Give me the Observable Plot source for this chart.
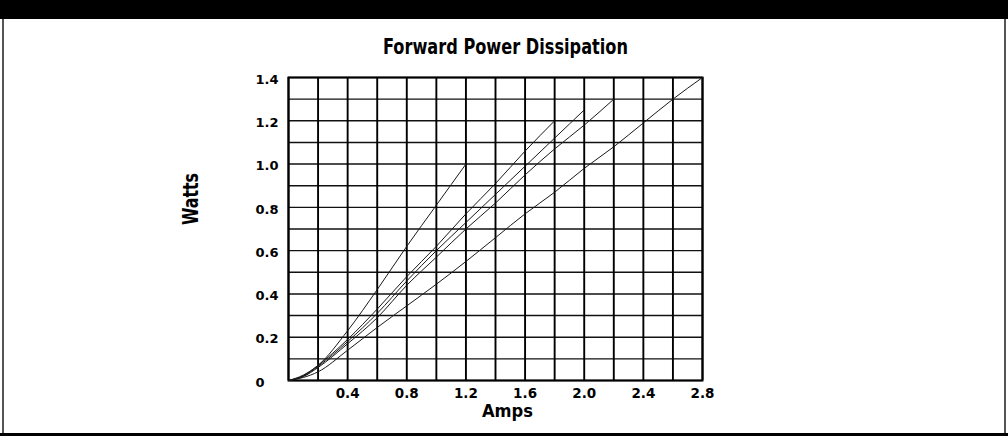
<!DOCTYPE html>
<html>
<head>
<meta charset="utf-8">
<script src="https://cdn.jsdelivr.net/npm/d3@7"></script>
<script src="https://cdn.jsdelivr.net/npm/@observablehq/plot@0.6"></script>
<style>
  html, body { margin: 0; padding: 0; background: #fff; }
  #wrap { position: relative; width: 1008px; height: 436px; overflow: hidden; background: #fff; }
  #topbar { position: absolute; left: 0; top: 0; width: 1008px; height: 19px; background: #000; }
  #botbar { position: absolute; left: 0; top: 433px; width: 1008px; height: 3px; background: #000; }
  #lline { position: absolute; left: 2px; top: 19px; width: 2px; height: 414px; background: #555; }
  #rline { position: absolute; left: 1004px; top: 19px; width: 2px; height: 414px; background: #555; }
  #chart { position: absolute; left: 0; top: 0; }
</style>
</head>
<body>
<div id="wrap">
  <div id="chart"></div>
  <div id="topbar"></div>
  <div id="botbar"></div>
  <div id="lline"></div>
  <div id="rline"></div>
</div>
<script>
// ---- data ----
const ampsA = [0, 0.1, 0.2, 0.4, 0.6, 0.8, 1.0, 1.2];
const wattsA = [0, 0.025, 0.07, 0.23, 0.42, 0.62, 0.81, 1.0];
const ampsB = [0, 0.1, 0.2, 0.4, 0.6, 0.8, 1.0, 1.2, 1.4, 1.6, 1.8];
const wattsB = [0, 0.022, 0.07, 0.19, 0.33, 0.48, 0.62, 0.77, 0.91, 1.06, 1.2];
const ampsC = [0, 0.1, 0.2, 0.4, 0.6, 0.8, 1.0, 1.2, 1.4, 1.6, 1.8, 2.0];
const wattsC = [0, 0.02, 0.065, 0.18, 0.31, 0.46, 0.60, 0.73, 0.86, 0.99, 1.12, 1.25];
const ampsD = [0, 0.1, 0.2, 0.4, 0.6, 0.8, 1.0, 1.2, 1.4, 1.6, 1.8, 2.0, 2.2];
const wattsD = [0, 0.018, 0.06, 0.17, 0.29, 0.44, 0.57, 0.70, 0.82, 0.95, 1.07, 1.18, 1.3];
const ampsE = [0, 0.1, 0.2, 0.4, 0.6, 0.8, 1.0, 1.2, 1.4, 1.6, 1.8, 2.0, 2.2, 2.4, 2.6, 2.8];
const wattsE = [0, 0.014, 0.04, 0.14, 0.245, 0.345, 0.445, 0.55, 0.66, 0.77, 0.87, 0.98, 1.08, 1.19, 1.30, 1.40];

const xTickLabels = [0.4, 0.8, 1.2, 1.6, 2.0, 2.4, 2.8];
const yTickLabels = [0, 0.2, 0.4, 0.6, 0.8, 1.0, 1.2, 1.4];
const xGrid = [0, 0.2, 0.4, 0.6, 0.8, 1.0, 1.2, 1.4, 1.6, 1.8, 2.0, 2.2, 2.4, 2.6, 2.8];
const yGrid = [0, 0.1, 0.2, 0.3, 0.4, 0.5, 0.6, 0.7, 0.8, 0.9, 1.0, 1.1, 1.2, 1.3, 1.4];

const titleText = "Forward Power Dissipation";
const xLabel = "Amps";
const yLabel = "Watts";

// ---- build table ----
const seriesList = [
  ["A", ampsA, wattsA], ["B", ampsB, wattsB], ["C", ampsC, wattsC],
  ["D", ampsD, wattsD], ["E", ampsE, wattsE]
];
const rows = [];
for (const [name, xs, ys] of seriesList) xs.forEach((x, i) => rows.push({series: name, amps: x, watts: ys[i]}));

const fmtX = d => d.toFixed(1);
const fmtY = d => d === 0 ? "0" : d.toFixed(1);

const plot = Plot.plot({
  width: 1008,
  height: 436,
  marginLeft: 288,
  marginRight: 306,
  marginTop: 77,
  marginBottom: 56,
  style: {background: "transparent", overflow: "visible"},
  x: {domain: [0, 2.8], axis: null},
  y: {domain: [0, 1.4], axis: null},
  marks: [
    Plot.ruleY(yGrid, {stroke: "#111", strokeWidth: 1.4}),
    Plot.ruleX(xGrid, {stroke: "#000", strokeWidth: 1.9}),
    Plot.frame({stroke: "#000", strokeWidth: 2}),
    Plot.line(rows, {x: "amps", y: "watts", z: "series", curve: "monotone-x", stroke: "#1a1a1a", strokeWidth: 1}),
    Plot.text(xTickLabels, {x: d => d, y: 0, text: fmtX, dy: 13, fontFamily: "DejaVu Sans", fontWeight: "bold", fontSize: 13.5, fill: "#000", letterSpacing: "1px"}),
    Plot.text(yTickLabels, {x: 0, y: d => d, text: fmtY, dx: -33, dy: 2, textAnchor: "start", fontFamily: "DejaVu Sans", fontWeight: "bold", fontSize: 13, fill: "#000", letterSpacing: "0.5px"})
  ]
});

document.getElementById("chart").appendChild(plot);

// titles and axis labels, condensed bold, fitted to their widths
const svg = d3.select(plot);
const cond = "'Liberation Sans Narrow', 'DejaVu Sans Condensed', 'Roboto Condensed', Roboto, sans-serif";
svg.append("text")
  .attr("x", 383).attr("y", 54).attr("text-anchor", "start")
  .attr("textLength", 245).attr("lengthAdjust", "spacingAndGlyphs")
  .attr("font-family", cond).attr("font-weight", "bold").attr("font-size", 21)
  .attr("fill", "#000").text(titleText);
svg.append("text")
  .attr("x", 482).attr("y", 417).attr("text-anchor", "start")
  .attr("textLength", 51).attr("lengthAdjust", "spacingAndGlyphs")
  .attr("font-family", cond).attr("font-weight", "bold").attr("font-size", 17)
  .attr("fill", "#000").text(xLabel);
svg.append("text")
  .attr("transform", "translate(198,225) rotate(-90)").attr("text-anchor", "start")
  .attr("textLength", 52).attr("lengthAdjust", "spacingAndGlyphs")
  .attr("font-family", cond).attr("font-weight", "bold").attr("font-size", 21)
  .attr("fill", "#000").text(yLabel);
</script>
</body>
</html>
